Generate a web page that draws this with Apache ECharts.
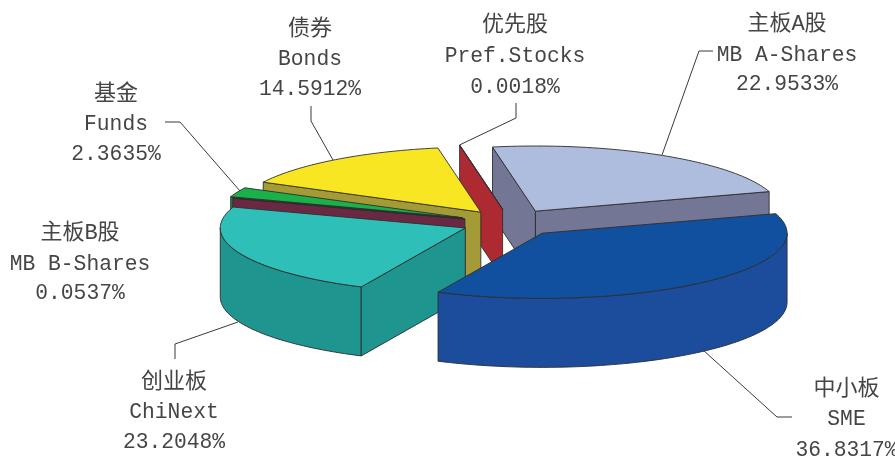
<!DOCTYPE html>
<html>
<head>
<meta charset="utf-8">
<style>html,body{margin:0;padding:0;background:#fff}#c{width:895px;height:457px}</style>
<script src="https://cdn.jsdelivr.net/npm/echarts@6/dist/echarts.min.js"></script>
</head>
<body>
<div id="c"></div>
<script>
// Data, clockwise from the first slice
const namesCn = ['主板A股', '中小板', '创业板', '主板B股', '基金', '债券', '优先股'];
const namesEn = ['MB A-Shares', 'SME', 'ChiNext', 'MB B-Shares', 'Funds', 'Bonds', 'Pref.Stocks'];
const shares = [22.9533, 36.8317, 23.2048, 0.0537, 2.3635, 14.5912, 0.0018];

// Styles
const topColors = ['#aebcdd', '#10509f', '#2ebfb8', '#6b2842', '#1ab04a', '#f9e622', '#ae2a33'];
const sideColors = ['#747696', '#1c4c9c', '#1f9590', '#6b2842', '#12893a', '#a49a38', '#ae2a33'];
const explode = [52, 51, 47, 46, 50, 47.5, 45];
const nudgeX = [0, 0, 0, 0, 0, 0.5, 2];
const nudgeY = [0, 0, 0, 0, 0, -0.7, -2];
const paintOrder = [0, 6, 5, 4, 3, 2, 1];

// Layout
const centerX = 508.5, centerY = 223, radius = 245, tilt = 0.266, depth = 69, firstAngle = -10.1;
const labelX = [787, 846.5, 174, 80, 116, 310, 515];
const labelY = [[24, 55, 84], [389, 419, 450], [382, 412, 442], [233, 264, 293], [94, 124, 154], [29, 59, 89], [25, 56, 87]];
const leaders = [
  [[713, 51], [699, 51], [662, 155]],
  [[792, 417], [777, 417], [703, 350]],
  [[175, 359], [175, 344], [238, 322]],
  [],
  [[165, 122], [180, 122], [240, 191]],
  [[311, 106], [311, 121], [333, 160]],
  [[516, 103], [516, 118], [459.5, 145]]
];

const total = shares.reduce((a, b) => a + b, 0);
const startAngles = [];
shares.reduce((acc, v, i) => { startAngles[i] = acc; return acc + v / total * 360; }, firstAngle);

const rad = d => d * Math.PI / 180;
const rows = paintOrder.map(i => [i, shares[i]]);
const ink = '#2e2e2e';
const mono = '"Liberation Mono","Noto Sans CJK SC",monospace';
const textInk = '#454545';

function renderItem(params, api) {
  const i = api.value(0), share = api.value(1);
  const a = startAngles[i], b = a + share / total * 360;
  const mid = rad((a + b) / 2);
  const ax = centerX + explode[i] * Math.sin(mid) + nudgeX[i];
  const ay = centerY - explode[i] * Math.cos(mid) * tilt + nudgeY[i];
  const P = (deg, drop) => [ax + radius * Math.sin(rad(deg)), ay - radius * Math.cos(rad(deg)) * tilt + (drop || 0)];
  const apex = [ax, ay], apexLow = [ax, ay + depth];
  const poly = (points, fill) => ({
    type: 'polygon',
    shape: { points },
    style: { fill, stroke: ink, lineWidth: 0.9, lineJoin: 'round' }
  });
  const arc = (from, to, drop) => {
    const out = [], n = Math.max(1, Math.ceil((to - from) / 1.5));
    for (let k = 0; k <= n; k++) out.push(P(from + (to - from) * k / n, drop));
    return out;
  };
  const children = [];
  // only the faces turned towards the viewer
  const f = Math.max(a, 90), t = Math.min(b, 270);
  if (t > f) children.push(poly(arc(f, t, 0).concat(arc(f, t, depth).reverse()), sideColors[i]));
  if (Math.sin(rad(a)) < 0) children.push(poly([apex, P(a), P(a, depth), apexLow], sideColors[i]));
  if (Math.sin(rad(b)) > 0) children.push(poly([apex, P(b), P(b, depth), apexLow], sideColors[i]));
  children.push(poly([apex].concat(arc(a, b, 0)), topColors[i]));
  return { type: 'group', children };
}

function renderLabels(params, api) {
  const i = api.value(0), share = api.value(1);
  const children = [];
  if (leaders[i].length) children.push({
    type: 'polyline', shape: { points: leaders[i] },
    style: { fill: 'none', stroke: '#3a3a3a', lineWidth: 1 }
  });
  [namesCn[i], namesEn[i], share.toFixed(4) + '%'].forEach((text, n) => {
    children.push({
      type: 'text',
      style: {
        text, x: labelX[i], y: labelY[i][n], align: 'center', verticalAlign: 'middle',
        fill: textInk, font: (n === 0 ? '22px ' : '21.3px ') + mono
      }
    });
  });
  return { type: 'group', children };
}

const chart = echarts.init(document.getElementById('c'), null, { renderer: 'canvas' });
chart.setOption({
  animation: false,
  backgroundColor: '#ffffff',
  series: [
    { type: 'custom', coordinateSystem: 'none', z: 1, clip: false, silent: true, renderItem: renderLabels, data: rows },
    { type: 'custom', coordinateSystem: 'none', z: 2, clip: false, silent: true, renderItem: renderItem, data: rows }
  ]
});
</script>
</body>
</html>
